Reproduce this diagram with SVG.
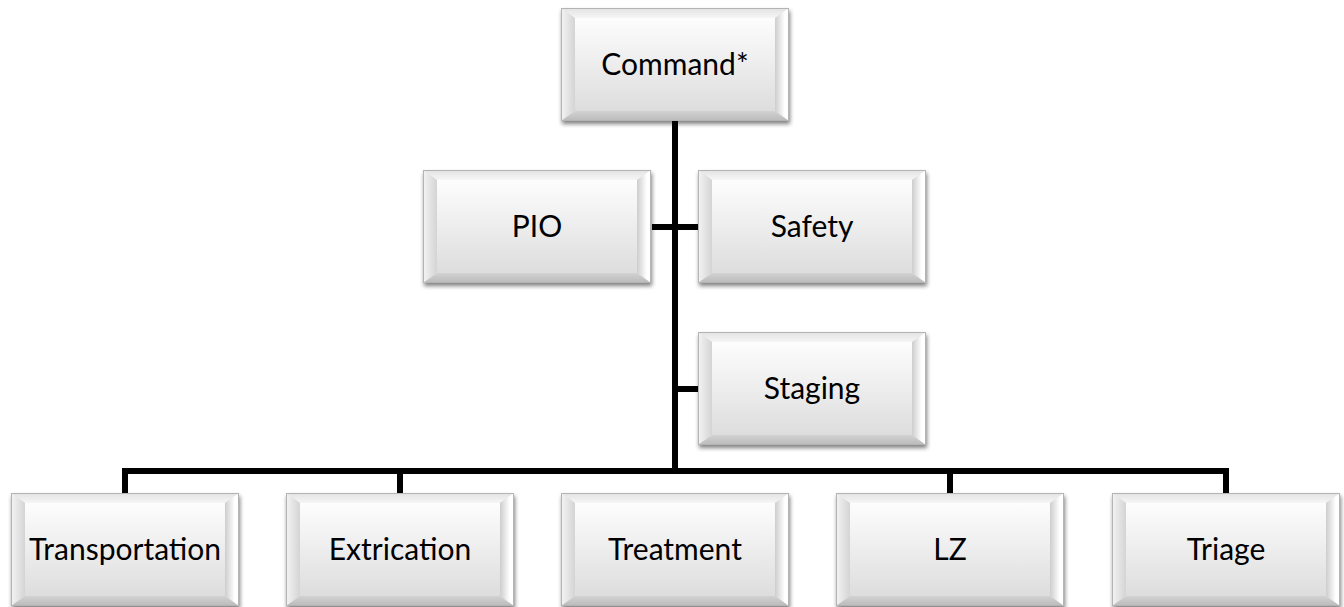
<svg xmlns="http://www.w3.org/2000/svg" xmlns:xlink="http://www.w3.org/1999/xlink" width="1344" height="607" viewBox="0 0 1344 607">
<defs>
<linearGradient id="face" x1="0" y1="0" x2="0" y2="1">
<stop offset="0" stop-color="#fdfdfd"/><stop offset="1" stop-color="#dddddd"/>
</linearGradient>
<linearGradient id="topb" x1="0" y1="0" x2="0" y2="1">
<stop offset="0" stop-color="#e2e2e2"/><stop offset="1" stop-color="#f6f6f6"/>
</linearGradient>
<linearGradient id="leftb" x1="0" y1="0" x2="1" y2="0">
<stop offset="0" stop-color="#f4f4f4"/><stop offset="1" stop-color="#d4d4d4"/>
</linearGradient>
<linearGradient id="rightb" x1="0" y1="0" x2="1" y2="0">
<stop offset="0" stop-color="#cdcdcd"/><stop offset="0.7" stop-color="#ffffff"/><stop offset="1" stop-color="#ffffff"/>
</linearGradient>
<linearGradient id="botb" x1="0" y1="0" x2="0" y2="1">
<stop offset="0" stop-color="#d2d2d2"/><stop offset="1" stop-color="#bababa"/>
</linearGradient>
<filter id="sh" x="-5%" y="-5%" width="115%" height="120%">
<feGaussianBlur in="SourceAlpha" stdDeviation="2"/>
<feOffset dx="1" dy="3" result="b"/>
<feComponentTransfer><feFuncA type="linear" slope="0.5"/></feComponentTransfer>
<feMerge><feMergeNode/><feMergeNode in="SourceGraphic"/></feMerge>
</filter>
<g id="box">
<rect x="0" y="0" width="228" height="113" fill="#e6e6e6" filter="url(#sh)"/>
<polygon points="0,0 228,0 214,10 14,10" fill="url(#topb)"/>
<polygon points="0,0 14,10 14,103 0,113" fill="url(#leftb)"/>
<polygon points="228,0 228,113 214,103 214,10" fill="url(#rightb)"/>
<polygon points="0,113 14,103 214,103 228,113" fill="url(#botb)"/>
<rect x="14" y="10" width="200" height="93" fill="url(#face)"/>
<rect x="0.5" y="0.5" width="227" height="112" fill="none" stroke="#b4b4b4" stroke-width="1"/>
</g>
</defs>
<style>
.lbl{font-family:Lato,"Open Sans","Liberation Sans",sans-serif;font-size:30px;fill:#000;text-anchor:middle}
.ln{stroke:#000;stroke-width:6;fill:none;stroke-linecap:butt;stroke-linejoin:miter}
</style>
<rect width="1344" height="607" fill="#fff"/>
<g id="connectors">
<path class="ln" d="M675,118 V471"/>
<path class="ln" d="M652,227 H698"/>
<path class="ln" d="M675,389 H698"/>
<path class="ln" d="M125,494 V471 H1226 V494"/>
<path class="ln" d="M400,471 V494"/>
<path class="ln" d="M950,471 V494"/>
</g>
<g id="node-command"><use xlink:href="#box" x="561" y="8"/><text class="lbl" x="675" y="75">Command*</text></g>
<g id="node-pio"><use xlink:href="#box" x="423" y="170"/><text class="lbl" x="537" y="237">PIO</text></g>
<g id="node-safety"><use xlink:href="#box" x="698" y="170"/><text class="lbl" x="812" y="237">Safety</text></g>
<g id="node-staging"><use xlink:href="#box" x="698" y="332"/><text class="lbl" x="812" y="399">Staging</text></g>
<g id="node-transportation"><use xlink:href="#box" x="11" y="493"/><text class="lbl" x="125" y="560">Transportation</text></g>
<g id="node-extrication"><use xlink:href="#box" x="286" y="493"/><text class="lbl" x="400" y="560">Extrication</text></g>
<g id="node-treatment"><use xlink:href="#box" x="561" y="493"/><text class="lbl" x="675" y="560">Treatment</text></g>
<g id="node-lz"><use xlink:href="#box" x="836" y="493"/><text class="lbl" x="950" y="560">LZ</text></g>
<g id="node-triage"><use xlink:href="#box" x="1112" y="493"/><text class="lbl" x="1226" y="560">Triage</text></g>
</svg>
